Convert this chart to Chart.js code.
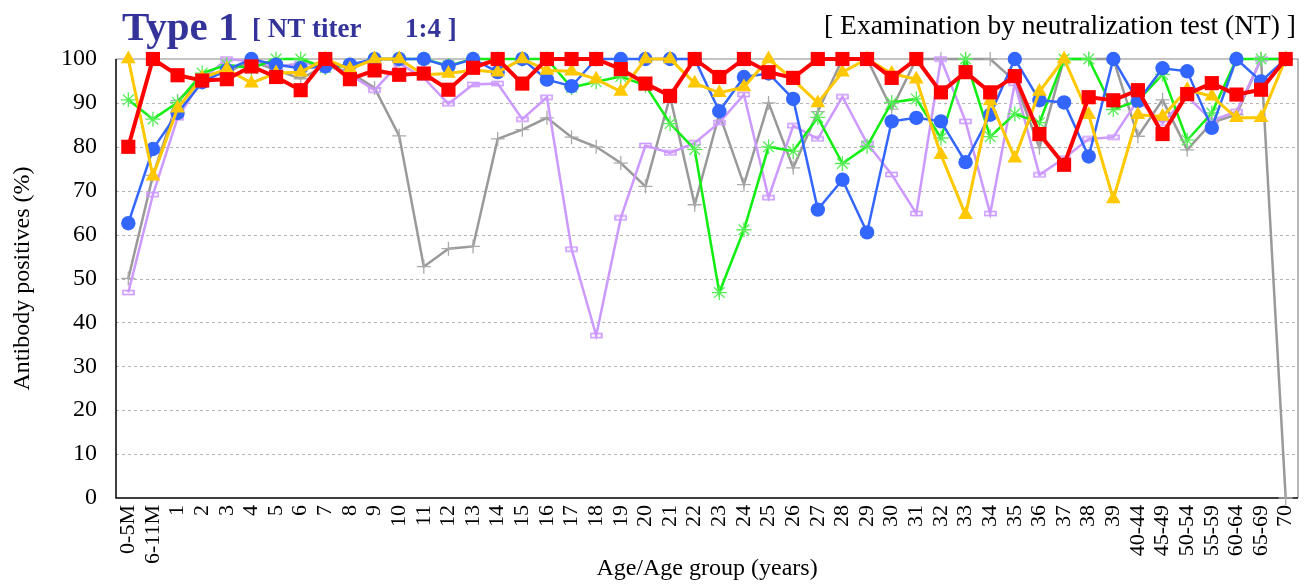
<!DOCTYPE html>
<html><head><meta charset="utf-8">
<script src="https://cdn.jsdelivr.net/npm/chart.js@4/dist/chart.umd.min.js"></script>
<style>html,body{margin:0;padding:0;background:#fff;}</style>
</head><body>
<canvas id="c" width="1308" height="585"></canvas>
<script>
const categories = ['0-5M','6-11M','1','2','3','4','5','6','7','8','9','10','11','12','13','14','15','16','17','18','19','20','21','22','23','24','25','26','27','28','29','30','31','32','33','34','35','36','37','38','39','40-44','45-49','50-54','55-59','60-64','65-69','70'];
const yTicks = [0,10,20,30,40,50,60,70,80,90,100];

const redValues = [80,100,96.3,95.1,95.4,98.3,95.9,92.9,100,95.4, 97.4,96.4,96.7,93,98,100,94.4,100,100,100, 97.7,94.4,91.6,100,95.9,100,97,95.7,100,100, 100,95.7,100,92.4,97,92.4,96.1,82.9,75.9,91.3, 90.6,92.9,82.9,92,94.5,91.9,93,100];
const yellowValues = [100,73.3,88.8,95.7,97.7,94.5,96.8,97,100,97.7, 100,100,96.4,96.7,97.5,97,100,97.4,97.2,95.4, 92.6,100,100,94.5,92.3,93.6,100,95.3,90,97, 100,96.7,95.4,78.2,64.5,90.5,77.4,92.6,100,87.3, 68.1,87.3,86.9,93,91.5,86.6,86.6,100];
const blueValues = [62.6,79.5,87.7,94.7,97.5,100,98.7,97.9,98.3,98.7, 100,100,100,98.3,100,97,100,95.3,93.8,100, 100,100,100,100,88.1,95.9,96.7,90.9,65.7,72.5, 60.5,85.8,86.6,85.8,76.5,87.3,100,90.6,90.1,77.8, 100,90.4,97.9,97.2,84.3,100,94.9,100];
const greenValues = [90.7,86.3,90.1,96.8,98.7,97.9,100,100,98,98.5, 100,100,100,98.5,100,100,100,100,93.5,94.8, 96,94,85.3,79.4,46.8,61.1,80,79,86.7,76.2, 80.1,90.1,90.9,82,100,82.3,87.5,85.5,100,100, 88.5,90.5,96.5,81.5,87.7,100,100,100];
const lavenderValues = [46.8,69.1,86.6,95.3,100,99.5,98.3,99,98.7,96.4, 92.9,99,95.7,89.8,94.2,94.4,86.3,91.3,56.7,37, 63.8,80.3,78.6,80.9,85.5,91.9,68.4,84.8,81.8,91.4, 80.8,73.7,64.8,100,85.8,64.8,94.5,73.6,77.4,81.8, 82.2,90.7,85.4,91.5,86,88,100,100];
const grayValues = [50,73.5,90.5,95.5,97,99.5,97.5,95.5,98.5,97, 93.4,82.5,52.7,56.8,57.3,81.8,83.9,86.6,82.2,80, 76.3,71,91.5,66.8,87.5,71.4,90,75.2,88,100, 100,88.6,100,100,100,100,95,79.8,100,100, 100,82.4,90.7,79.3,85.5,87.3,100,0];

const SERIF = '"Liberation Serif", "DejaVu Serif", serif';

function flatRect(color){
  const c = document.createElement('canvas');
  c.width = 13; c.height = 7;
  const g = c.getContext('2d');
  g.strokeStyle = color; g.lineWidth = 1.6;
  g.strokeRect(1, 1.5, 11, 4);
  return c;
}

const framePlugin = {
  id: 'frame',
  beforeDatasetsDraw(chart){
    const {ctx, chartArea:{left,right,top,bottom}, scales:{y}} = chart;
    ctx.save();
    ctx.strokeStyle = '#b4b4b4'; ctx.lineWidth = 1; ctx.setLineDash([3,3]);
    for (const v of yTicks){
      if (v === 0 || v === 100) continue;
      const py = Math.round(y.getPixelForValue(v)) + 0.5;
      ctx.beginPath(); ctx.moveTo(left, py); ctx.lineTo(right, py); ctx.stroke();
    }
    ctx.setLineDash([]);
    ctx.strokeStyle = '#8a8a8a'; ctx.lineWidth = 1.2;
    ctx.beginPath(); ctx.moveTo(left, top); ctx.lineTo(right, top); ctx.lineTo(right, bottom); ctx.stroke();
    ctx.strokeStyle = '#000'; ctx.lineWidth = 1.5;
    ctx.beginPath(); ctx.moveTo(left, top); ctx.lineTo(left, bottom); ctx.lineTo(right, bottom); ctx.stroke();
    ctx.restore();
  },
  afterDraw(chart){
    const ctx = chart.ctx;
    ctx.save();
    ctx.textBaseline = 'alphabetic';
    ctx.fillStyle = '#333399';
    ctx.textAlign = 'left';
    ctx.font = 'bold 41px ' + SERIF;
    ctx.fillText('Type 1', 122, 40);
    ctx.font = 'bold 27px ' + SERIF;
    ctx.fillText('[ NT titer', 252, 37);
    ctx.fillText('1:4 ]', 405, 37);
    ctx.fillStyle = '#000';
    ctx.textAlign = 'right';
    ctx.font = '27.5px ' + SERIF;
    ctx.fillText('[ Examination by neutralization test (NT) ]', 1296, 34);
    ctx.restore();
  }
};

function ds(label, data, color, opts){
  return Object.assign({
    label, data,
    borderColor: color, backgroundColor: color,
    pointBackgroundColor: color, pointBorderColor: color,
    tension: 0, clip: false, fill: false
  }, opts);
}

const datasets = [
  ds('red', redValues, '#ff0000', {borderWidth: 4, pointStyle: 'rect', pointRadius: 10, pointBorderWidth: 0}),
  ds('yellow', yellowValues, '#ffc800', {borderWidth: 3, pointStyle: 'triangle', pointRadius: 8.5, pointBorderWidth: 0}),
  ds('blue', blueValues, '#3366ff', {borderWidth: 2.5, pointStyle: 'circle', pointRadius: 7.2, pointBorderWidth: 0}),
  ds('green', greenValues, '#11ee11', {borderWidth: 2.5, pointStyle: 'star', pointRadius: 7.5, pointBorderWidth: 1.3, pointBorderColor: '#55ee55'}),
  ds('lavender', lavenderValues, '#cc99ff', {borderWidth: 2.5, pointStyle: flatRect('#cc99ff'), pointRadius: 5}),
  ds('gray', grayValues, '#999999', {borderWidth: 2.5, pointStyle: 'cross', pointRadius: 7, pointBorderWidth: 1.3, pointBorderColor: '#aaaaaa'})
];

new Chart(document.getElementById('c'), {
  type: 'line',
  data: { labels: categories, datasets },
  plugins: [framePlugin],
  options: {
    responsive: false, animation: false, devicePixelRatio: 1,
    layout: { padding: { top: 59, right: 6, left: 0, bottom: 0 } },
    plugins: { legend: { display: false }, tooltip: { enabled: false } },
    scales: {
      x: {
        type: 'category', offset: true,
        grid: { display: false, drawTicks: false }, border: { display: false },
        ticks: { autoSkip: false, maxRotation: 90, minRotation: 90, padding: 7, color: '#000', font: { family: SERIF, size: 22 } },
        title: { display: true, text: 'Age/Age group (years)', color: '#000', font: { family: SERIF, size: 24 }, padding: { top: 0, bottom: 2 } },
        afterFit(s){ s.height = 87; s.paddingLeft = 0; s.paddingRight = 0; }
      },
      y: {
        min: 0, max: 100,
        grid: { display: false, drawTicks: false }, border: { display: false },
        ticks: { stepSize: 10, padding: 19, color: '#000', font: { family: SERIF, size: 24 } },
        title: { display: true, text: 'Antibody positives (%)', color: '#000', font: { family: SERIF, size: 24 }, padding: { top: 8, bottom: 0 } },
        afterFit(s){ s.width = 116; }
      }
    }
  }
});
</script>
</body></html>
